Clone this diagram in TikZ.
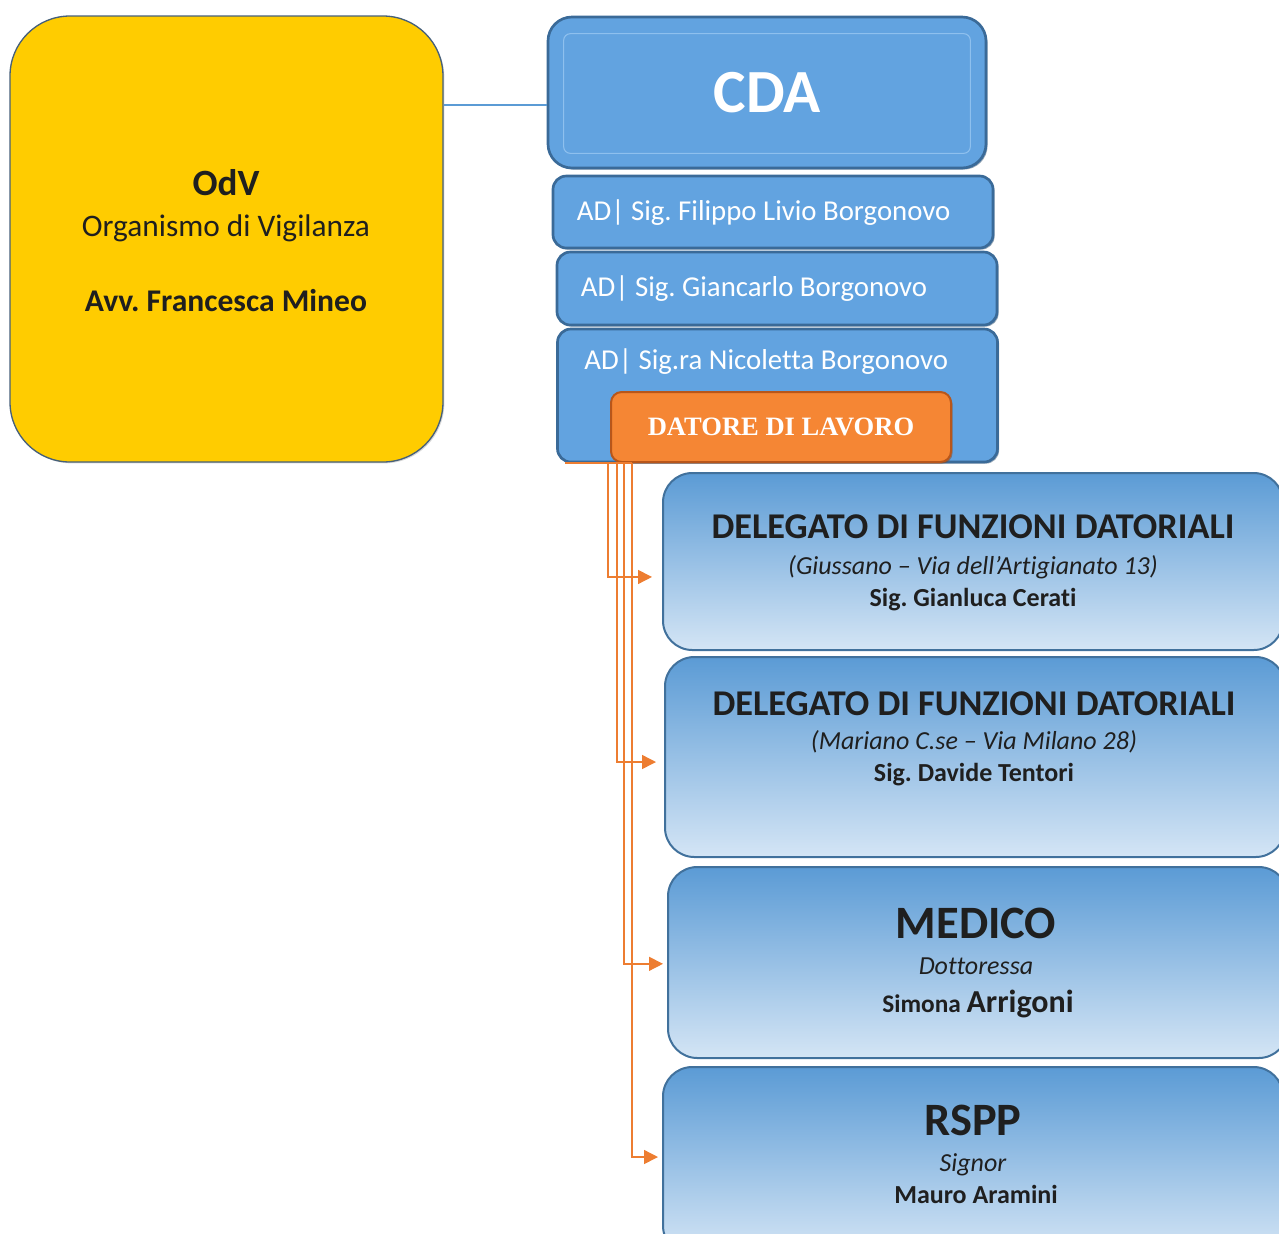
\documentclass[tikz,border=0pt]{standalone}
\usepackage{fontspec}
\setmainfont{Carlito}[Ligatures=NoCommon]
\newfontfamily\serifbold{Liberation Serif}
\frenchspacing
\usetikzlibrary{positioning,arrows.meta,calc,shadows}
\definecolor{odvyellow}{HTML}{FFCC00}
\definecolor{odvedge}{HTML}{46607A}
\definecolor{cdablue}{HTML}{62A3E0}
\definecolor{cdaedge}{HTML}{3A6A98}
\definecolor{cdainner}{HTML}{8EC0EE}
\definecolor{dlorange}{HTML}{F58634}
\definecolor{dledge}{HTML}{B8561A}
\definecolor{linkorange}{HTML}{ED7D31}
\definecolor{linkblue}{HTML}{5B9BD5}
\definecolor{boxtop}{HTML}{5B9BD5}
\definecolor{boxbottom}{HTML}{D4E5F5}
\definecolor{boxedge}{HTML}{41719C}
\definecolor{inktext}{HTML}{1F1F1F}
\tikzset{%
odvbox/.style={draw=odvedge,line width=1pt,fill=odvyellow,rounded corners=45pt,minimum width=324.75pt,minimum height=334.5pt,drop shadow={shadow xshift=1pt,shadow yshift=-1pt,fill=black!30}},
odvtext/.style={anchor=base,text=inktext,inner sep=0pt,font=\fontsize{23.5}{26}\selectfont},
cdabox/.style={draw=cdaedge,line width=2pt,fill=cdablue,rounded corners=18pt,minimum width=328.5pt,minimum height=113.25pt,text=white,font=\bfseries\fontsize{46}{50}\selectfont,drop shadow={shadow xshift=1.2pt,shadow yshift=-1.2pt,fill=cdaedge!70!black}},
adbox/.style={draw=cdaedge,line width=2pt,fill=cdablue,rounded corners=10pt,minimum width=330pt,minimum height=#1,drop shadow={shadow xshift=1.2pt,shadow yshift=-1.2pt,fill=cdaedge!70!black}},
adbox/.default=54pt,
adtext/.style={anchor=west,text=white,inner sep=0pt,font=\fontsize{21.6}{24}\selectfont},
dlbox/.style={draw=dledge,line width=1.5pt,fill=dlorange,rounded corners=8pt,minimum width=255pt,minimum height=52.5pt,text=white,font=\serifbold\bfseries\fontsize{19.9}{22}\selectfont,drop shadow={shadow xshift=1.2pt,shadow yshift=-1.2pt,fill=dledge!80!black}},
rolebox/.style={draw=boxedge,line width=1.5pt,top color=boxtop,bottom color=boxbottom,rounded corners=22pt,minimum width=465pt,minimum height=#1},
rolebox/.default=140pt,
roletitle/.style={anchor=base,text=inktext,inner sep=0pt,font=\bfseries\fontsize{27.2}{30}\selectfont},
rolebig/.style={anchor=base,text=inktext,inner sep=0pt,font=\bfseries\fontsize{34.8}{38}\selectfont},
roleplace/.style={anchor=base,text=inktext,inner sep=0pt,font=\itshape\fontsize{19.5}{22}\selectfont},
rolename/.style={anchor=base,text=inktext,inner sep=0pt,font=\bfseries\fontsize{19.5}{22}\selectfont},
link/.style={draw=linkorange,line width=1.1pt,-{Triangle[length=10.5pt,width=10.5pt]}},
bus/.style={draw=linkorange,line width=1.1pt},
blueline/.style={draw=linkblue,line width=1.1pt}
}
\begin{document}
\begin{tikzpicture}[x=0.75pt,y=-0.75pt]
  \useasboundingbox (0,0) rectangle (1279,1233);

  % organismo di vigilanza
  \node[odvbox] (odv) at (226.5,239) {};
  \node[odvtext,font=\bfseries\fontsize{27.8}{30}\selectfont] (odvname) at (226,195) {OdV};
  \node[odvtext] (odvlong) at (226,236) {Organismo di Vigilanza};
  \node[odvtext,font=\bfseries\fontsize{23.7}{26}\selectfont] (odvperson) at (226,311) {Avv. Francesca Mineo};

  % consiglio di amministrazione
  \node[cdabox] (cda) at (767,92.5) {CDA};
  \draw[draw=cdainner,line width=0.8pt,rounded corners=5pt]
    ([xshift=12.75pt,yshift=-13.5pt]cda.north west) rectangle ([xshift=-12.75pt,yshift=12pt]cda.south east);

  \node[adbox] (ad1) at (773,212) {};
  \node[adbox=54.75pt] (ad2) at (777,288.5) {};
  \node[adbox=99.75pt] (ad3) at (777.5,395.5) {};
  \node[adtext] (ad1txt) at ($(ad1.west)+(25,1)$) {AD| Sig. Filippo Livio Borgonovo};
  \node[adtext] (ad2txt) at ($(ad2.west)+(25,0.5)$) {AD| Sig. Giancarlo Borgonovo};
  \node[adtext] (ad3txt) at ($(ad3.north west)+(28,34)$) {AD| Sig.ra Nicoletta Borgonovo};

  \node[dlbox] (datore) at (781,427) {DATORE DI LAVORO};

  % funzioni delegate
  \node[rolebox=132.75pt] (d1) at (973,561.5) {};
  \node[rolebox=150pt] (d2) at (975,757) {};
  \node[rolebox=143.25pt] (med) at (978,962.5) {};
  \node[rolebox=141pt] (rspp) at (973,1161) {};

  \node[roletitle] (d1title) at (973,538) {DELEGATO DI FUNZIONI DATORIALI};
  \node[roleplace] (d1place) at (973,574) {(Giussano -- Via dell’Artigianato 13)};
  \node[rolename] (d1name) at (973,606) {Sig. Gianluca Cerati};

  \node[roletitle] (d2title) at (974,715) {DELEGATO DI FUNZIONI DATORIALI};
  \node[roleplace] (d2place) at (974,749) {(Mariano C.se -- Via Milano 28)};
  \node[rolename] (d2name) at (974,781) {Sig. Davide Tentori};

  \node[rolebig] (medtitle) at (976,938) {MEDICO};
  \node[roleplace] (medplace) at (976,974) {Dottoressa};
  \node[rolename,font=\bfseries\fontsize{19}{22}\selectfont] (medname) at (978,1012) {Simona {\fontsize{24}{26}\selectfont Arrigoni}};

  \node[rolebig] (rspptitle) at (973,1135) {RSPP};
  \node[roleplace] (rsppplace) at (973,1171) {Signor};
  \node[rolename] (rsppname) at (976,1203) {Mauro Aramini};

  % collegamenti
  \coordinate (cdain) at ([yshift=-9.4pt]cda.west);
  \draw[blueline] (cdain) -- (cdain -| odv.east);

  \coordinate (busl) at (565,463);
  \coordinate (v1) at (608,463);
  \coordinate (v2) at (617,463);
  \coordinate (v3) at (624,463);
  \coordinate (v4) at (632,463);
  \coordinate (d1in) at ([xshift=-7.5pt,yshift=-11.6pt]d1.west);
  \coordinate (d2in) at ([xshift=-6pt,yshift=-3.75pt]d2.west);
  \coordinate (medin) at ([xshift=-3pt,yshift=-1pt]med.west);
  \coordinate (rsppin) at ([xshift=-3pt,yshift=3pt]rspp.west);

  \draw[bus] (busl) -- (v4);
  \draw[link] (v1) |- (d1in);
  \draw[link] (v2) |- (d2in);
  \draw[link] (v3) |- (medin);
  \draw[link] (v4) |- (rsppin);

\end{tikzpicture}
\end{document}
